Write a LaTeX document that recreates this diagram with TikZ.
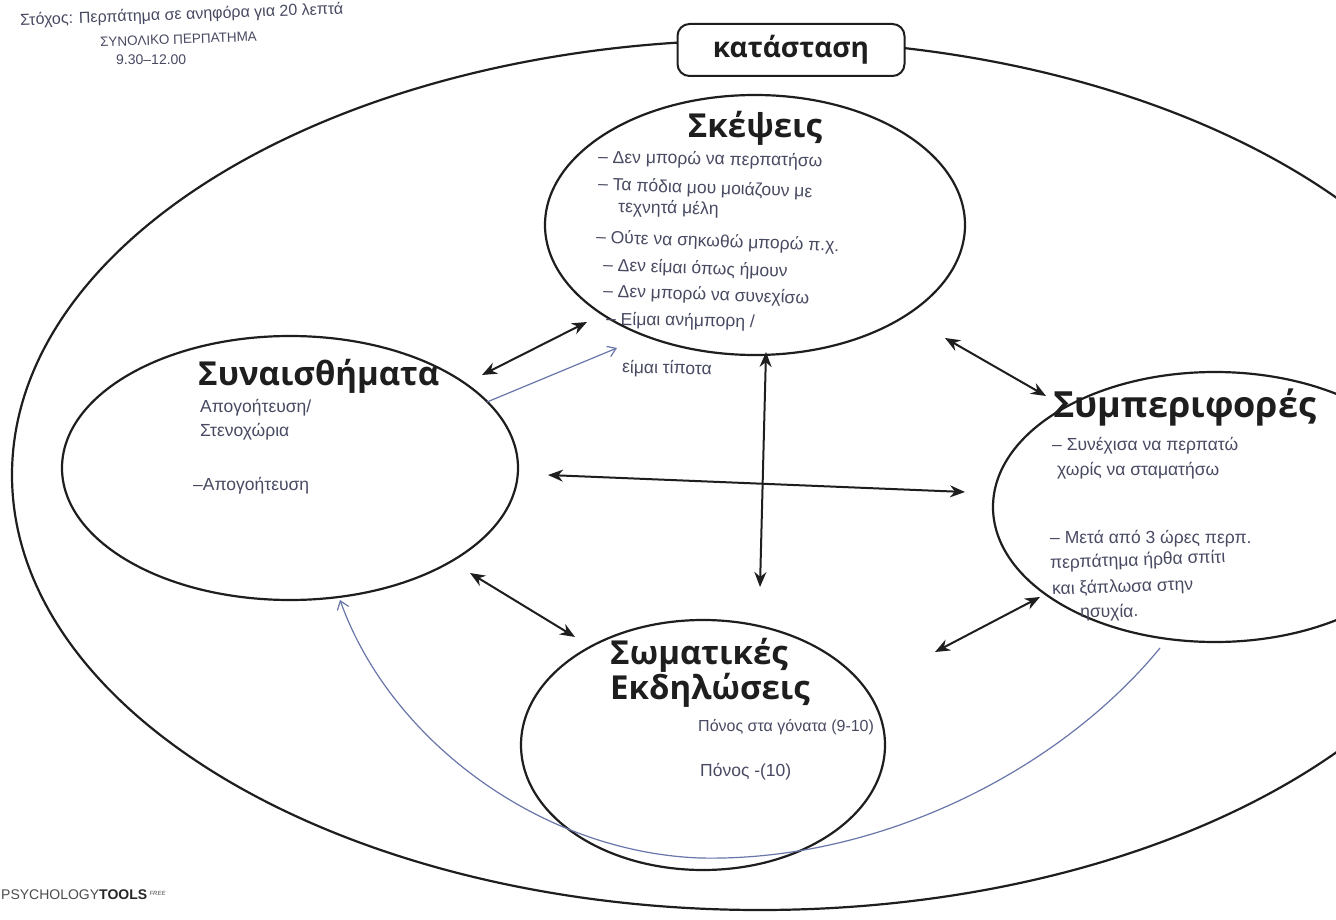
\documentclass[tikz,border=0pt]{standalone}
\usepackage{fontspec}
\setmainfont{Open Sans}
\newfontfamily\handfont{Liberation Sans}
\newfontfamily\logofont{Liberation Sans}
\usetikzlibrary{shapes.geometric,arrows.meta}
\definecolor{ink}{RGB}{30,30,30}
\definecolor{pencil}{RGB}{72,74,98}
\definecolor{bluepen}{RGB}{105,118,170}
\begin{document}
\begin{tikzpicture}[x=1pt,y=-1pt,
  bubble/.style={draw=ink,line width=2.2pt,ellipse,inner sep=0pt},
  title/.style={font=\bfseries\fontsize{33}{36}\selectfont,text=ink,inner sep=0pt},
  hand/.style={font=\handfont\fontsize{17.5}{19}\selectfont,text=pencil,anchor=west,inner sep=0pt},
  note/.style={hand,font=\handfont\fontsize{16}{18}\selectfont},
  twoway/.style={draw=ink,line width=2pt,{Stealth[length=15pt,width=12pt]}-{Stealth[length=15pt,width=12pt]}},
  penline/.style={draw=bluepen,line width=1.2pt}]
\clip (0,0) rectangle (1336,920);
\fill[white] (0,0) rectangle (1336,920);

% the situation frame and its label
\node[bubble,minimum width=1496pt,minimum height=870pt] (outer) at (760,475) {};
\node[draw=ink,line width=2pt,rounded corners=12pt,fill=white,minimum width=227pt,
      minimum height=52pt,font=\bfseries\fontsize{28}{30}\selectfont,text=ink] (sit) at (791,50) {κατάσταση};

% the four bubbles
\node[bubble,minimum width=420pt,minimum height=260pt] (thought) at (755,225) {};
\node[bubble,minimum width=456pt,minimum height=264pt] (emot) at (290,468) {};
\node[bubble,minimum width=444pt,minimum height=270pt] (behav) at (1215,507) {};
\node[bubble,minimum width=364pt,minimum height=250pt] (body) at (703,745) {};

% bubble titles
\node[title] (tT) at (755,128) {Σκέψεις};
\node[title,anchor=west] (tE) at (198,376) {Συναισθήματα};
\node[title,anchor=west,font=\bfseries\fontsize{36}{38}\selectfont] (tB) at (1053,407) {Συμπεριφορές};
\node[title,anchor=west] (tS1) at (610,655) {Σωματικές};
\node[title,anchor=west] (tS2) at (610,690) {Εκδηλώσεις};

% notes on the task
\node[note,rotate=2] (n1) at (20,21) {Στόχος: Περπάτημα σε ανηφόρα για 20 λεπτά};
\node[note,font=\handfont\fontsize{13.5}{15}\selectfont,rotate=2] (n2) at (100,42) {ΣΥΝΟΛΙΚΟ ΠΕΡΠΑΤΗΜΑ};
\node[note,font=\handfont\fontsize{14}{15}\selectfont] (n3) at (116,60) {9.30–12.00};

% thoughts
\node[hand,rotate=-1] (h1) at (598,158) {– Δεν μπορώ να περπατήσω};
\node[hand,rotate=-2] (h2) at (598,185) {– Τα πόδια μου μοιάζουν με};
\node[hand,rotate=-1] (h3) at (618,208) {τεχνητά μέλη};
\node[hand,rotate=-2] (h4) at (596,238) {– Ούτε να σηκωθώ μπορώ π.χ.};
\node[hand,rotate=-2] (h5) at (603,266) {– Δεν είμαι όπως ήμουν};
\node[hand,rotate=-2] (h6) at (603,292) {– Δεν μπορώ να συνεχίσω};
\node[hand,rotate=-1] (h7) at (606,320) {– Είμαι ανήμπορη /};
\node[hand,rotate=-1] (h8) at (622,368) {είμαι τίποτα};

% feelings
\node[hand] (e1) at (200,408) {Απογοήτευση/};
\node[hand] (e2) at (200,432) {Στενοχώρια};
\node[hand] (e3) at (193,486) {–Απογοήτευση};

% behaviours
\node[hand] (b1) at (1052,446) {– Συνέχισα να περπατώ};
\node[hand] (b2) at (1057,471) {χωρίς να σταματήσω};
\node[hand] (b3) at (1050,539) {– Μετά από 3 ώρες περπ.};
\node[hand,rotate=2] (b4) at (1050,564) {περπάτημα ήρθα σπίτι};
\node[hand,rotate=2] (b5) at (1052,590) {και ξάπλωσα στην};
\node[hand,rotate=1] (b6) at (1080,613) {ησυχία.};

% body
\node[hand,font=\handfont\fontsize{16}{18}\selectfont] (s1) at (698,727) {Πόνος στα γόνατα (9-10)};
\node[hand] (s2) at (700,772) {Πόνος -(10)};

% two-way links between the bubbles
\coordinate (ca) at (482,375);  \coordinate (cb) at (587,322);
\coordinate (cc) at (945,338);  \coordinate (cd) at (1046,396);
\coordinate (ce) at (548,475);  \coordinate (cf) at (965,492);
\coordinate (cg) at (766,352);  \coordinate (ch) at (760,587);
\coordinate (ci) at (470,573);  \coordinate (cj) at (575,637);
\coordinate (ck) at (935,652);  \coordinate (cl) at (1040,597);
\draw[twoway] (ca) -- (cb);
\draw[twoway] (cc) -- (cd);
\draw[twoway] (ce) -- (cf);
\draw[twoway] (cg) -- (ch);
\draw[twoway] (ci) -- (cj);
\draw[twoway] (ck) -- (cl);

% pen arrows added by hand
\coordinate (pa) at (487,402); \coordinate (pb) at (617,348);
\draw[penline,-{Straight Barb[length=8pt,width=11pt]}] (pa) -- (pb);
\coordinate (pc) at (1160,648); \coordinate (pd) at (700,858); \coordinate (pe) at (340,600);
\draw[penline,-{Straight Barb[length=8pt,width=12pt]}] (pc)
  .. controls (1060,770) and (880,862) .. (pd)
  .. controls (540,852) and (390,740) .. (pe);

% footer logo
\node[anchor=west,inner sep=0pt,font=\logofont\fontsize{14}{16}\selectfont,text=black!70] (logo) at (1,895)
  {PSYCHOLOGY\textbf{\textcolor{black!85}{TOOLS}}\,\raisebox{4pt}{\itshape\fontsize{6}{7}\selectfont FREE}};
\end{tikzpicture}
\end{document}
